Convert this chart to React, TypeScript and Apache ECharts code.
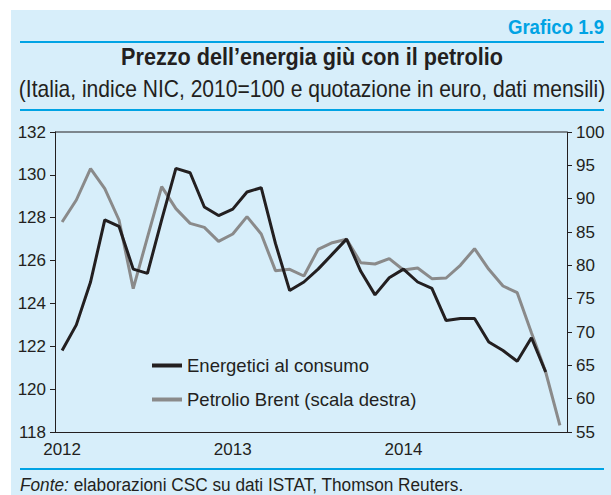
import React, { useEffect, useRef } from "react";
import * as echarts from "echarts";

const months: string[] = [];
for (const y of [2012, 2013, 2014]) {
  for (let m = 1; m <= 12; m++) months.push(`${y}-${String(m).padStart(2, "0")}`);
}

const energetici = [
  121.8, 123.0, 125.0, 127.9, 127.6, 125.6, 125.4, 127.9, 130.3, 130.1, 128.5, 128.1,
  128.4, 129.2, 129.4, 126.8, 124.6, 125.0, 125.6, 126.3, 127.0, 125.5, 124.4, 125.2,
  125.6, 125.0, 124.7, 123.2, 123.3, 123.3, 122.2, 121.8, 121.3, 122.4, 120.8,
];

const brent = [
  86.5, 89.8, 94.5, 91.5, 86.8, 76.5, 84.2, 91.8, 88.5, 86.3, 85.7, 83.6,
  84.7, 87.3, 84.7, 79.2, 79.4, 78.4, 82.4, 83.4, 83.9, 80.4, 80.2, 81.0,
  79.3, 79.6, 78.0, 78.1, 80.0, 82.5, 79.4, 76.9, 75.9, 69.9, 64.0, 56.0,
];

const seriesNames = ["Energetici al consumo", "Petrolio Brent (scala destra)"];
const titleText = "Prezzo dell\u2019energia gi\u00f9 con il petrolio";
const subtitleText = "(Italia, indice NIC, 2010=100 e quotazione in euro, dati mensili)";
const badgeText = "Grafico 1.9";
const sourceLabel = "Fonte:";
const sourceText = " elaborazioni CSC su dati ISTAT, Thomson Reuters.";

const BG = "#d7eefa";
const CYAN = "#00a3e4";
const DARK = "#231f20";
const GREY = "#8a8a8a";
const FONT = "'Liberation Sans', Arial, sans-serif";

export default function App() {
  const ref = useRef<HTMLDivElement>(null);
  useEffect(() => {
    if (!ref.current) return;
    const chart = echarts.init(ref.current, null, { renderer: "svg" });
    chart.setOption({
      animation: false,
      textStyle: { fontFamily: FONT },
      graphic: [
        { type: "rect", z: -10, shape: { x: 11, y: 10, width: 600, height: 485 }, style: { fill: BG } },
        { type: "line", shape: { x1: 20, y1: 42, x2: 604, y2: 42 }, style: { stroke: CYAN, lineWidth: 2 } },
        { type: "line", shape: { x1: 20, y1: 110, x2: 604, y2: 110 }, style: { stroke: CYAN, lineWidth: 2 } },
        { type: "line", shape: { x1: 20, y1: 469, x2: 604, y2: 469 }, style: { stroke: CYAN, lineWidth: 2 } },
        { type: "line", shape: { x1: 55, y1: 132, x2: 567, y2: 132 }, style: { stroke: DARK, lineWidth: 1 } },
        {
          type: "text", x: 604, y: 27, scaleX: 0.93,
          style: { text: badgeText, fill: CYAN, font: `bold 20px ${FONT}`, textAlign: "right", textVerticalAlign: "middle" },
        },
        {
          type: "text", x: 312, y: 57, scaleX: 0.94,
          style: { text: titleText, fill: DARK, font: `bold 23px ${FONT}`, textAlign: "center", textVerticalAlign: "middle" },
        },
        {
          type: "text", x: 312, y: 89, scaleX: 0.915,
          style: { text: subtitleText, fill: DARK, font: `23px ${FONT}`, textAlign: "center", textVerticalAlign: "middle" },
        },
        {
          type: "text", x: 20, y: 485, scaleX: 0.907,
          style: {
            text: `{i|${sourceLabel}}{n|${sourceText}}`,
            fill: DARK,
            font: `19px ${FONT}`,
            textAlign: "left",
            textVerticalAlign: "middle",
            rich: {
              i: { fontStyle: "italic", fontSize: 19, fontFamily: FONT, fill: DARK },
              n: { fontSize: 19, fontFamily: FONT, fill: DARK },
            },
          },
        },
      ],
      grid: { left: 55, right: 44, top: 132, bottom: 63, containLabel: false },
      legend: {
        orient: "vertical",
        left: 147,
        top: 351,
        itemWidth: 30,
        itemHeight: 4,
        itemGap: 15,
        icon: "rect",
        textStyle: { fontSize: 18.5, color: DARK, fontFamily: FONT },
        data: seriesNames,
      },
      xAxis: {
        type: "category",
        data: months,
        boundaryGap: true,
        axisLine: { lineStyle: { color: DARK, width: 1 } },
        axisTick: {
          length: 5,
          lineStyle: { color: DARK },
          alignWithLabel: false,
          interval: (i: number) => i % 12 === 0,
        },
        axisLabel: {
          interval: (i: number) => i % 12 === 0,
          formatter: (v: string) => v.slice(0, 4),
          fontSize: 17,
          color: DARK,
          margin: 9,
          fontFamily: FONT,
        },
        splitLine: { show: false },
      },
      yAxis: [
        {
          type: "value",
          min: 118,
          max: 132,
          interval: 2,
          position: "left",
          axisLine: { show: true, lineStyle: { color: DARK, width: 1 } },
          axisTick: { show: true, length: 5, lineStyle: { color: DARK } },
          axisLabel: { fontSize: 17, color: DARK, margin: 9, fontFamily: FONT },
          splitLine: { show: false },
        },
        {
          type: "value",
          min: 55,
          max: 100,
          interval: 5,
          position: "right",
          axisLine: { show: true, lineStyle: { color: DARK, width: 1 } },
          axisTick: { show: true, length: 5, lineStyle: { color: DARK } },
          axisLabel: { fontSize: 17, color: DARK, margin: 9, fontFamily: FONT },
          splitLine: { show: false },
        },
      ],
      series: [
        {
          name: seriesNames[1],
          type: "line",
          yAxisIndex: 1,
          data: brent,
          showSymbol: false,
          symbol: "none",
          lineStyle: { color: GREY, width: 3 },
          itemStyle: { color: GREY },
          z: 2,
        },
        {
          name: seriesNames[0],
          type: "line",
          yAxisIndex: 0,
          data: energetici,
          showSymbol: false,
          symbol: "none",
          lineStyle: { color: DARK, width: 3 },
          itemStyle: { color: DARK },
          z: 3,
        },
      ],
    });
    return () => chart.dispose();
  }, []);
  return (
    <div
      ref={ref}
      style={{ position: "fixed", left: 0, top: 0, width: 611, height: 495, background: "#ffffff" }}
    />
  );
}
